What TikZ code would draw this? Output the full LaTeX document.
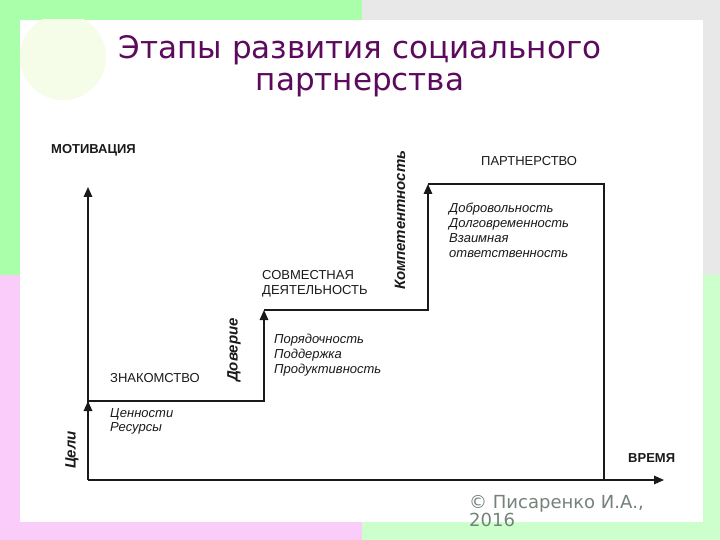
\documentclass[tikz,border=0pt]{standalone}
\usepackage{fontspec}
\setmainfont{Liberation Sans}
\newfontfamily\titlefont{DejaVu Sans}
\usetikzlibrary{arrows.meta}
\definecolor{bggreen}{HTML}{AAFFAA}
\definecolor{bggray}{HTML}{E8E8E8}
\definecolor{bgpink}{HTML}{F9CCF9}
\definecolor{bglight}{HTML}{CCFFCC}
\definecolor{titlecol}{HTML}{5C0A5C}
\definecolor{copycol}{HTML}{73837A}
\definecolor{linecol}{HTML}{1A1A1A}
\definecolor{blob}{HTML}{F5FCE7}
\tikzset{
  ln/.style={draw=linecol, line width=1.6pt},
  arr/.style={ln, -{Triangle[length=10pt,width=8.5pt]}},
  lab/.style={font=\fontsize{13}{15}\selectfont, anchor=west, inner sep=0pt, text=linecol},
  blab/.style={font=\fontsize{13}{15}\selectfont\bfseries, anchor=west, inner sep=0pt, text=linecol},
  ilab/.style={font=\fontsize{13}{14.8}\selectfont\itshape, anchor=north west, inner sep=0pt, align=left, text=linecol},
  rlab/.style={font=\fontsize{15}{17}\selectfont\bfseries\itshape, rotate=90, inner sep=0pt, text=linecol},
}
\begin{document}
\begin{tikzpicture}[x=1pt,y=-1pt]
\useasboundingbox (0,0) rectangle (720,540);
% background
\fill[bggreen] (0,0) rectangle (362,275);
\fill[bggray] (362,0) rectangle (720,275);
\fill[bgpink] (0,275) rectangle (362,540);
\fill[bglight] (362,275) rectangle (720,540);
\fill[white] (20,20) rectangle (703,522);
\begin{scope}
\clip (20,20) rectangle (120,110);
\fill[blob] (63,57) circle (43);
\end{scope}
% title
\node[font=\titlefont\fontsize{31}{32.5}\selectfont, text=titlecol, align=center] (title) at (360,66) {Этапы развития социального\\партнерства};
% coordinates
\coordinate (O) at (88,480);
\coordinate (Y) at (88,187);
\coordinate (X) at (664,480);
\coordinate (A) at (88,401);
\coordinate (B) at (264,401);
\coordinate (Bt) at (264,310);
\coordinate (C) at (428,310);
\coordinate (Ct) at (428,184);
\coordinate (D) at (604,184);
\coordinate (E) at (604,480);
% axes and steps
\draw[arr] (O) -- (Y);
\draw[arr] (O) -- (X);
\draw[arr] (O) -- (A);
\draw[arr] (A) -- (B) -- (Bt);
\draw[arr] (Bt) -- (C) -- (Ct);
\draw[ln] (Ct) -- (D) -- (E);
% labels
\node[blab] (mot) at (51,150) {МОТИВАЦИЯ};
\node[blab] (time) at (628,458) {ВРЕМЯ};
\node[lab] (zn) at (110,378) {ЗНАКОМСТВО};
\node[ilab] (znl) at (110,408) {Ценности\\Ресурсы};
\node[rlab] (goal) at (72,450) {Цели};
\node[rlab] (trust) at (234,350) {Доверие};
\node[lab, anchor=west, align=left, font=\fontsize{13}{15}\selectfont] (sd) at (262,284) {СОВМЕСТНАЯ\\ДЕЯТЕЛЬНОСТЬ};
\node[ilab] (sdl) at (274,334) {Порядочность\\Поддержка\\Продуктивность};
\node[rlab] (comp) at (400,220) {Компетентность};
\node[lab] (pt) at (481,161) {ПАРТНЕРСТВО};
\node[ilab] (ptl) at (449,203) {Добровольность\\Долговременность\\Взаимная\\ответственность};
% copyright
\node[font=\titlefont\fontsize{18}{18}\selectfont, text=copycol, anchor=north west, align=left, inner sep=0pt] (copy) at (469,495) {© Писаренко И.А.,\\2016};
\end{tikzpicture}
\end{document}
